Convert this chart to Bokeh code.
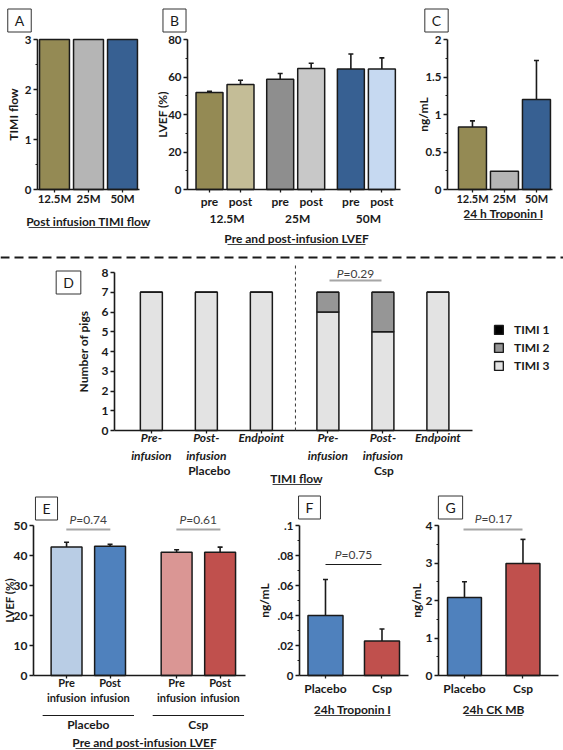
import math
from bokeh.plotting import figure
from bokeh.models import (Range1d, FixedTicker, SingleIntervalTicker, Label, Arrow,
                          Whisker, TeeHead, ColumnDataSource, Span, Legend, LegendItem)
from bokeh.layouts import column, row
from bokeh.embed import file_html
from bokeh.resources import INLINE

FONT = "Lato"
INK = "#1a1a1a"
PGRAY = "#404040"
BARGRAY = "#a6a6a6"

# ---------------- data ----------------
# A: post infusion TIMI flow
a_doses = ["12.5M", "25M", "50M"]
a_timi = [3, 3, 3]
# B: pre / post infusion LVEF (%)
b_doses = ["12.5M", "25M", "50M"]
b_phase = ["pre", "post"]
b_pre = [51.7, 58.8, 64.3]
b_pre_err = [0.7, 3.1, 8.0]
b_post = [56.0, 64.6, 64.3]
b_post_err = [2.3, 2.7, 5.9]
# C: 24 h Troponin I (ng/mL)
c_doses = ["12.5M", "25M", "50M"]
c_trop = [0.835, 0.244, 1.20]
c_trop_err = [0.08, 0.0, 0.52]
# D: TIMI flow, number of pigs
d_stages = ["Pre-\ninfusion", "Post-\ninfusion", "Endpoint"]
d_groups = ["Placebo", "Csp"]
d_timi1 = [0, 0, 0, 0, 0, 0]
d_timi2 = [0, 0, 0, 1, 2, 0]
d_timi3 = [7, 7, 7, 6, 5, 7]
d_series = ["TIMI 1", "TIMI 2", "TIMI 3"]
d_pvalue = "0.29"
# E: pre / post infusion LVEF (%)
e_groups = ["Placebo", "Csp"]
e_phase = ["Pre\ninfusion", "Post\ninfusion"]
e_pre = [42.8, 41.1]
e_pre_err = [1.6, 0.8]
e_post = [43.1, 41.1]
e_post_err = [0.6, 1.7]
e_pvalues = ["0.74", "0.61"]
# F: 24h Troponin I (ng/mL)
f_groups = ["Placebo", "Csp"]
f_trop = [0.040, 0.023]
f_trop_err = [0.024, 0.008]
f_pvalue = "0.75"
# G: 24h CK MB (ng/mL)
g_groups = ["Placebo", "Csp"]
g_ckmb = [2.08, 2.99]
g_ckmb_err = [0.42, 0.64]
g_pvalue = "0.17"

# ---------------- colours ----------------
OLIVE, TAN = "#948A54", "#C4BD97"
GRAY_A, GRAY_D, GRAY_L = "#B5B5B5", "#8E8E8E", "#C8C8C8"
BLUE_D, BLUE_L = "#376092", "#C6D9F1"
PL_L, PL_D = "#B9CDE5", "#4F81BD"
CS_L, CS_D = "#DA9694", "#C0504D"
T1, T2, T3 = "#000000", "#969696", "#E3E3E3"


class Panel:
    """A figure whose frame fills the whole figure; the axes sit at fixed
    locations inside it so that all labels can be placed freely."""

    def __init__(self, fig_box, plot_box, xr, yr):
        L, T, R, B = fig_box
        fl, ft, fr, fb = plot_box
        self.fl, self.ft, self.fr, self.fb = fl, ft, fr, fb
        self.xr, self.yr = xr, yr
        sx = (xr[1] - xr[0]) / (fr - fl)
        sy = (yr[1] - yr[0]) / (fb - ft)
        x0 = xr[0] - (fl - L) * sx
        x1 = xr[1] + (R - fr) * sx
        y0 = yr[0] - (B - fb) * sy
        y1 = yr[1] + (ft - T) * sy
        p = figure(frame_width=R - L, frame_height=B - T, min_border=0,
                   x_range=Range1d(x0, x1), y_range=Range1d(y0, y1),
                   output_backend="svg", toolbar_location=None, tools="")
        p.grid.visible = False
        p.outline_line_color = None
        p.background_fill_color = "white"
        p.border_fill_color = "white"
        for ax in (p.xaxis, p.yaxis):
            ax.axis_line_color = INK
            ax.axis_line_width = 1.6
            ax.major_tick_line_color = INK
            ax.major_tick_line_width = 1.3
            ax.minor_tick_line_color = INK
            ax.minor_tick_line_width = 1.0
            ax.major_tick_in = 0
            ax.minor_tick_in = 0
            ax.major_label_text_font = FONT
            ax.major_label_text_font_style = "bold"
            ax.major_label_text_color = INK
        p.xaxis.fixed_location = yr[0]
        p.xaxis.bounds = (xr[0], xr[1])
        p.yaxis.fixed_location = xr[0]
        p.yaxis.bounds = (yr[0], yr[1])
        p.yaxis.major_tick_out = 4
        p.yaxis.minor_tick_out = 2
        p.yaxis.major_label_standoff = 2
        p.yaxis.major_label_text_font_size = "11.5px"
        p.xaxis.major_tick_out = 3
        p.xaxis.major_label_text_font_size = "12px"
        self.p = p

    def dx(self, X):
        return self.xr[0] + (X - self.fl) / (self.fr - self.fl) * (self.xr[1] - self.xr[0])

    def dy(self, Y):
        return self.yr[0] + (self.fb - Y) / (self.fb - self.ft) * (self.yr[1] - self.yr[0])

    def px(self, x):
        return self.fl + (x - self.xr[0]) / (self.xr[1] - self.xr[0]) * (self.fr - self.fl)

    def text(self, X, Y, s, size="12px", style="bold", color=INK, angle=0.0, align="center"):
        self.p.add_layout(Label(x=self.dx(X), y=self.dy(Y), text=s, text_font=FONT,
                                text_font_size=size, text_font_style=style, text_color=color,
                                text_align=align, text_baseline="middle", angle=angle))

    def hline(self, X0, X1, Y, color=PGRAY, width=1.0, dash="solid"):
        self.p.add_layout(Arrow(x_start=self.dx(X0), y_start=self.dy(Y), x_end=self.dx(X1),
                                y_end=self.dy(Y), start=None, end=None, line_color=color,
                                line_width=width, line_dash=dash))

    def box_letter(self, X, Y, s):
        self.p.add_layout(Label(x=self.dx(X), y=self.dy(Y), text=s, text_font=FONT,
                                text_font_size="14px", text_color=INK, text_align="center",
                                text_baseline="middle", border_line_color="#333333",
                                border_line_width=1, background_fill_color="white",
                                padding=dict(left=7, right=7, top=3, bottom=3)))

    def ylabel(self, X, Y, s, size="12px"):
        self.text(X, Y, s, size=size, angle=math.pi / 2)

    def title(self, Xc, Y, s, X0, X1):
        self.text(Xc, Y, s, size="12px")
        self.hline(X0, X1, Y + 6, color=PGRAY, width=1.1)

    def pval(self, Xc, Y, val, color=PGRAY):
        split = Xc - 12
        self.text(split, Y, "P", size="12px", style="italic", color=color, align="right")
        self.text(split, Y, "=" + val, size="12px", style="normal", color=color, align="left")

    def bars(self, xs, vals, width, colors):
        self.p.vbar(x=xs, top=vals, bottom=0, width=width, fill_color=colors,
                    line_color=INK, line_width=1.5)

    def errs(self, xs, vals, errs):
        keep = [i for i, e in enumerate(errs) if e > 0]
        src = ColumnDataSource(dict(base=[xs[i] for i in keep], lower=[vals[i] for i in keep],
                                    upper=[vals[i] + errs[i] for i in keep]))
        self.p.add_layout(Whisker(source=src, base="base", lower="lower", upper="upper",
                                  dimension="height", line_color=INK, line_width=1.6,
                                  lower_head=None,
                                  upper_head=TeeHead(size=5, line_color=INK, line_width=1.6)))

    def xticks(self, xs, labels, standoff, style="bold", size="12px"):
        ax = self.p.xaxis[0]
        ax.ticker = FixedTicker(ticks=list(xs))
        ax.major_label_overrides = {float(x): l for x, l in zip(xs, labels)}
        ax.major_label_standoff = standoff
        ax.major_label_text_font_style = style
        ax.major_label_text_font_size = size


# ---------------- A ----------------
A = Panel((0, 0, 155, 250), (37, 39, 139, 189), (0, 3), (0, 3))
a_x = [i + 0.5 for i in range(len(a_doses))]
A.bars(a_x, a_timi, 0.88, [OLIVE, GRAY_A, BLUE_D])
A.xticks(a_x, a_doses, -1, size="11.5px")
A.p.yaxis.ticker = SingleIntervalTicker(interval=1, num_minor_ticks=2)
A.box_letter(19, 20, "A")
A.ylabel(13, 114, "TIMI flow")
A.title(88, 221, "Post infusion TIMI flow", 28, 147)

# ---------------- B ----------------
B = Panel((155, 0, 405, 250), (187, 39, 400, 189), (0, 213 / 31), (0, 80))
b_pre_x = [0.71 + 2.28 * g for g in range(len(b_doses))]
b_post_x = [x + 1.0 for x in b_pre_x]
B.bars(b_pre_x, b_pre, 0.87, [OLIVE, GRAY_D, BLUE_D])
B.bars(b_post_x, b_post, 0.87, [TAN, GRAY_L, BLUE_L])
B.errs(b_pre_x, b_pre, b_pre_err)
B.errs(b_post_x, b_post, b_post_err)
B.xticks(b_pre_x + b_post_x, [b_phase[0]] * 3 + [b_phase[1]] * 3, 1)
B.p.yaxis.ticker = SingleIntervalTicker(interval=20, num_minor_ticks=2)
for g, name in enumerate(b_doses):
    B.text(B.px((b_pre_x[g] + b_post_x[g]) / 2) + 2, 218, name, size="12px")
B.box_letter(174, 20, "B")
B.ylabel(162, 114, "LVEF (%)")
B.title(296, 238, "Pre and post-infusion LVEF", 227, 365)

# ---------------- C ----------------
C = Panel((405, 0, 563, 250), (447, 39, 552, 189), (0, 105 / 32), (0, 2))
c_x = [0.78 + i for i in range(len(c_doses))]
C.bars(c_x, c_trop, 0.875, [OLIVE, GRAY_A, BLUE_D])
C.errs(c_x, c_trop, c_trop_err)
C.xticks(c_x, c_doses, -1, size="11px")
C.p.yaxis.ticker = FixedTicker(ticks=[0, 0.5, 1, 1.5, 2], minor_ticks=[0.25, 0.75, 1.25, 1.75])
C.p.yaxis.major_label_overrides = {0.0: "0", 0.5: "0.5", 1.0: "1", 1.5: "1.5", 2.0: "2"}
C.box_letter(436, 20, "C")
C.ylabel(423, 114, "ng/mL")
C.title(503, 213, "24 h Troponin I", 464, 542)

# ---------------- D ----------------
D = Panel((0, 248, 563, 484), (114, 270, 472, 428), (0, 358 / 55), (0, 8))
d_x = [0.67 + i for i in range(3)] + [3.88 + i for i in range(3)]
d_src = ColumnDataSource(dict(x=d_x, t1=d_timi1, t2=d_timi2, t3=d_timi3))
rs = D.p.vbar_stack(["t3", "t2", "t1"], x="x", width=0.4, source=d_src,
                    fill_color=[T3, T2, T1], line_color=INK, line_width=1.5)
legend = Legend(items=[LegendItem(label=d_series[0], renderers=[rs[2]]),
                       LegendItem(label=d_series[1], renderers=[rs[1]]),
                       LegendItem(label=d_series[2], renderers=[rs[0]])],
                location=(493, 113), orientation="vertical",
                glyph_width=11, glyph_height=11, label_standoff=10, label_height=14,
                spacing=3, padding=10, margin=0, border_line_color=None,
                background_fill_alpha=0, label_text_font=FONT, label_text_font_size="12px",
                label_text_font_style="bold", label_text_color=INK)
D.p.add_layout(legend)
D.xticks(d_x, d_stages * 2, -4, style="bold italic")
D.p.yaxis.ticker = SingleIntervalTicker(interval=1, num_minor_ticks=0)
D.p.yaxis.major_label_text_font_size = "12px"
D.p.add_layout(Span(location=D.dy(255), dimension="width", line_color=INK, line_width=2,
                    line_dash="9 5"))
D.p.add_layout(Arrow(x_start=3.29, y_start=0, x_end=3.29, y_end=D.dy(261), start=None,
                     end=None, line_color="#333333", line_width=1, line_dash="3 3"))
D.text(D.px(d_x[1]) + 3, 468, d_groups[0], size="12px")
D.text(D.px(d_x[4]) + 1, 468, d_groups[1], size="12px")
D.box_letter(68, 280, "D")
D.ylabel(83, 349, "Number of pigs")
D.pval(355, 271, d_pvalue)
D.hline(329, 381, 278, color=BARGRAY, width=2.2)
D.title(296, 476, "TIMI flow", 272, 320)

# ---------------- E ----------------
E = Panel((0, 484, 255, 750), (33, 523, 245, 673), (0, 212 / 43.5), (0, 50))
e_pre_x = [0.76 + 2.53 * g for g in range(len(e_groups))]
e_post_x = [x + 1.0 for x in e_pre_x]
E.bars(e_pre_x, e_pre, 0.71, [PL_L, CS_L])
E.bars(e_post_x, e_post, 0.71, [PL_D, CS_D])
E.errs(e_pre_x, e_pre, e_pre_err)
E.errs(e_post_x, e_post, e_post_err)
E.xticks(e_pre_x + e_post_x, [e_phase[0]] * 2 + [e_phase[1]] * 2, -3, size="11px")
E.p.yaxis.ticker = SingleIntervalTicker(interval=10, num_minor_ticks=0)
E.p.yaxis.major_label_text_font_size = "12px"
for g, name in enumerate(e_groups):
    cx = (e_pre_x[g] + e_post_x[g]) / 2
    E.hline(E.px(cx - 1.05), E.px(cx + 1.05), 713, color=INK, width=1.2)
    E.text(E.px(cx), 722, name, size="12px")
    E.pval(E.px(cx), 517, e_pvalues[g])
    E.hline(E.px(cx) - 22, E.px(cx) + 22, 527, color=BARGRAY, width=2.2)
E.box_letter(46, 506, "E")
E.ylabel(9, 598, "LVEF (%)", size="11.5px")
E.title(144, 740, "Pre and post-infusion LVEF", 75, 213)

# ---------------- F ----------------
F = Panel((255, 484, 410, 750), (299, 523, 408, 673), (0.04, 0.04 + 109 / 56.5), (0, 0.1))
f_x = [0.5, 1.5]
F.bars(f_x, f_trop, 0.62, [PL_D, CS_D])
F.errs(f_x, f_trop, f_trop_err)
F.xticks(f_x, f_groups, 2)
F.p.yaxis.ticker = FixedTicker(ticks=[0, 0.02, 0.04, 0.06, 0.08, 0.1],
                               minor_ticks=[0.01, 0.03, 0.05, 0.07, 0.09])
F.p.yaxis.major_label_overrides = {0.0: "0", 0.02: ".02", 0.04: ".04", 0.06: ".06",
                                   0.08: ".08", 0.1: ".1"}
F.box_letter(309, 505, "F")
F.ylabel(264, 598, "ng/mL")
F.pval(353, 552, f_pvalue)
F.hline(325, 381, 562, color=INK, width=1.2)
F.title(352, 707, "24h Troponin I", 315, 390)

# ---------------- G ----------------
G = Panel((410, 484, 563, 750), (438, 523, 558, 673), (0.056, 0.056 + 120 / 58.5), (0, 4))
g_x = [0.5, 1.5]
G.bars(g_x, g_ckmb, 0.58, [PL_D, CS_D])
G.errs(g_x, g_ckmb, g_ckmb_err)
G.xticks(g_x, g_groups, 2)
G.p.yaxis.ticker = SingleIntervalTicker(interval=1, num_minor_ticks=2)
G.p.yaxis.major_label_text_font_size = "12px"
G.box_letter(450, 505, "G")
G.ylabel(416, 598, "ng/mL")
G.pval(493, 516, g_pvalue)
G.hline(463, 522, 527, color=BARGRAY, width=2.2)
G.title(493, 707, "24h CK MB", 465, 522)

layout = column(row(A.p, B.p, C.p), D.p, row(E.p, F.p, G.p))
open("out.html", "w").write(file_html(layout, INLINE))
